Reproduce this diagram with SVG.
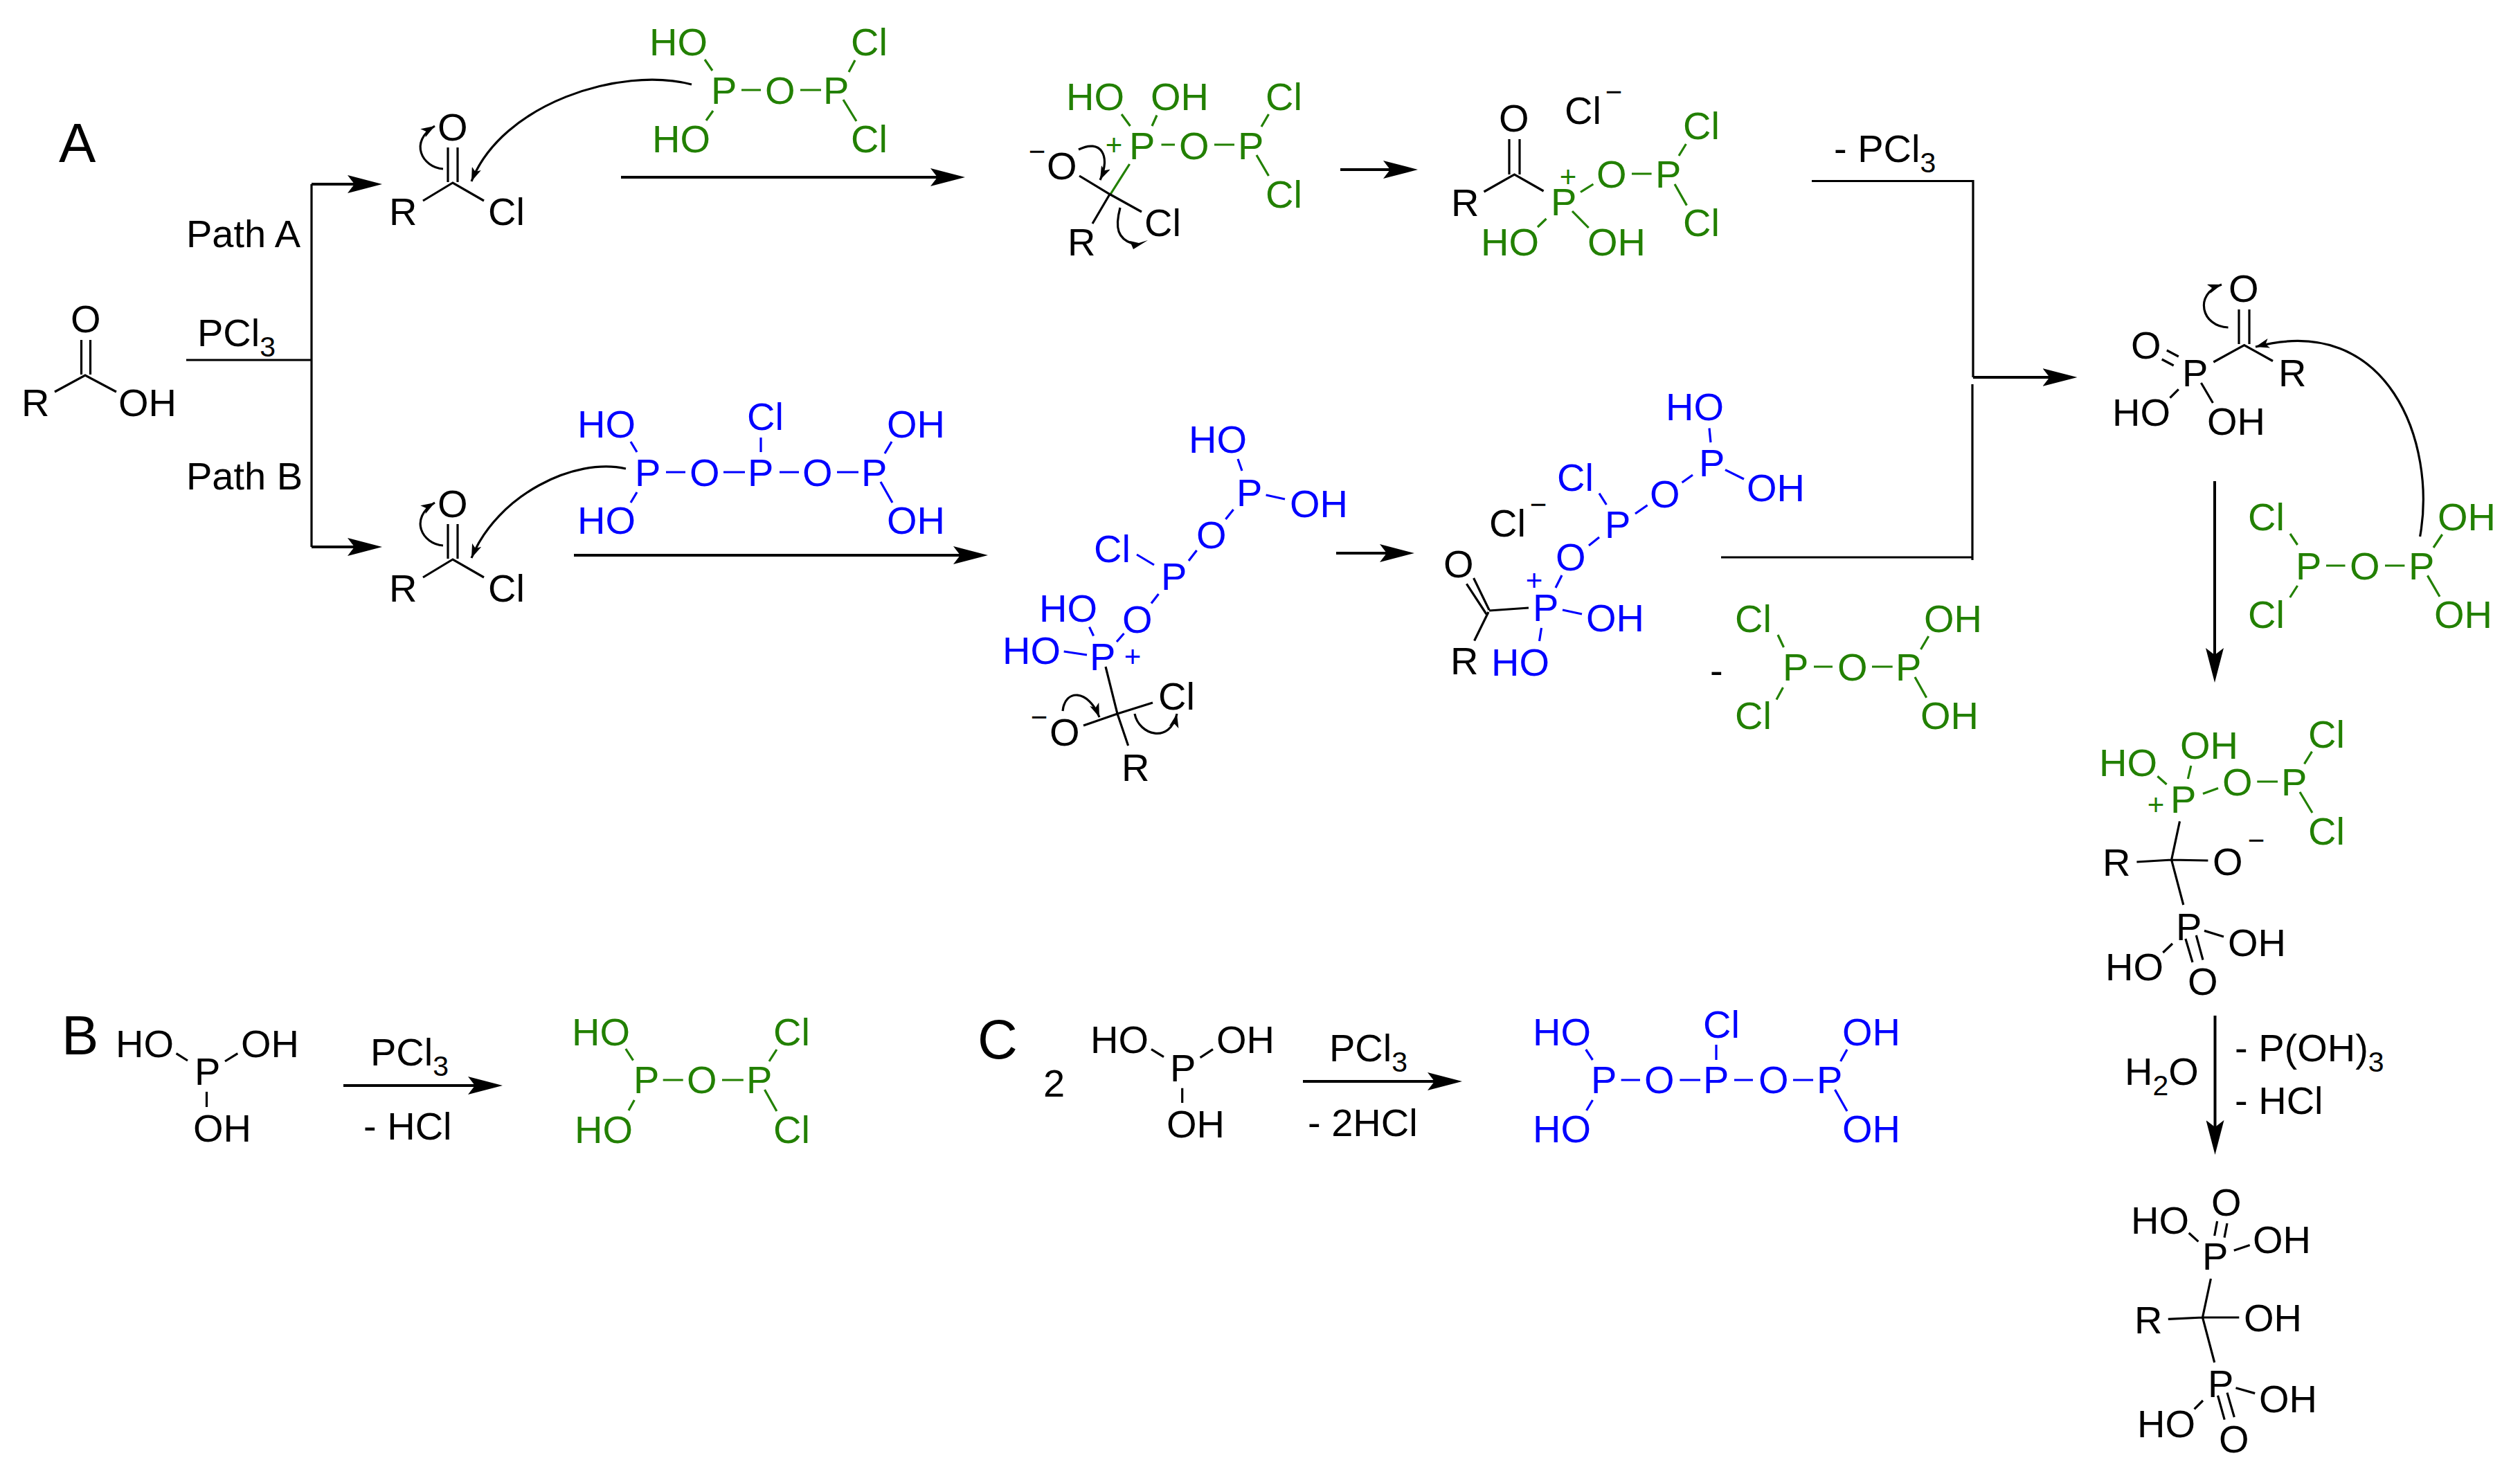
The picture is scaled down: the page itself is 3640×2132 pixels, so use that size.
<svg xmlns="http://www.w3.org/2000/svg" width="3640" height="2132" viewBox="0 0 3640 2132">
<style>
text{font-family:"Liberation Sans",Arial,sans-serif;font-size:56px;fill:#000}
.g text,text.g{fill:#228000}
.b text,text.b{fill:#0000ff}
text.k{fill:#000}
text.lab{font-size:80px}
text.c{font-size:42px;text-anchor:middle}
tspan.s{font-size:41px}
path{fill:none;stroke-width:3.2;stroke:#000}
.g>path{stroke:#228000}
.b>path{stroke:#0000ff}
path.k{stroke:#000}
.ar{stroke-width:4;marker-end:url(#big)}
.cu{marker-end:url(#small)}
path.hd{fill:#000;stroke:none}
</style>
<defs>
<marker id="big" markerUnits="userSpaceOnUse" markerWidth="50" markerHeight="26" viewBox="0 0 50 26" refX="40" refY="13" orient="auto"><path class="hd" d="M50,13L0,0L10,13L0,26Z"/></marker>
<marker id="small" markerUnits="userSpaceOnUse" markerWidth="20" markerHeight="14" viewBox="0 0 20 14" refX="20" refY="7" orient="auto"><path class="hd" d="M20,7L0,0L5,7L0,14Z"/></marker>
</defs>
<rect width="3640" height="2132" fill="#fff"/>

<g id="connectors">
<path d="M269,520H450M450,266V790"/>
<path class="ar" d="M450,266H542"/>
<path class="ar" d="M450,790H542"/>
<path class="ar" d="M897,256H1384"/>
<path class="ar" d="M829,802H1417"/>
<path class="ar" d="M1936,245H2038"/>
<path class="ar" d="M1930,799H2033"/>
<path d="M2617,261.500H2850V545M2486,805H2849M2849,555V809"/>
<path class="ar" d="M2850,545H2990.500"/>
<path class="ar" d="M3199,695V976"/>
<path class="ar" d="M3199.500,1467V1658"/>
<path class="ar" d="M496,1568H716"/>
<path class="ar" d="M1882,1562H2102"/>
<path class="cu" d="M640,244C610,242 590,205 628,182"/>
<path class="cu" d="M999,122C895,95 725,150 681,262"/>
<path class="cu" d="M640,788C610,786 590,749 628,726"/>
<path class="cu" d="M904,677C830,660 718,715 681,806"/>
<path class="cu" d="M1558,216C1590,200 1605,225 1589,260"/>
<path d="M1618,300C1610,330 1615,345 1636,352"/>
<path class="hd" d="M1637,360L1632,348L1645,351L1658,347Z"/>
<path class="cu" d="M1535,1027C1538,995 1572,995 1588,1036"/>
<path class="cu" d="M1639,1031C1645,1062 1690,1075 1700,1031"/>
<path class="cu" d="M3218.500,473C3180,472 3168,425 3209,411"/>
<path class="cu" d="M3495.600,775C3520,640 3450,450 3258,501"/>
</g>

<g id="labels">
<text class="lab" x="85" y="234">A</text>
<text class="lab" x="89" y="1523">B</text>
<text class="lab" x="1412" y="1529">C</text>
<text x="269" y="357">Path A</text>
<text x="269" y="707">Path B</text>
<text x="285" y="500">PCl<tspan class="s" dy="15">3</tspan></text>
<text x="2649" y="233.500">- PCl<tspan class="s" dy="15">3</tspan></text>
<text x="3069" y="1567">H<tspan class="s" dy="15">2</tspan><tspan dy="-15">O</tspan></text>
<text x="3228" y="1533">- P(OH)<tspan class="s" dy="15">3</tspan></text>
<text x="3228" y="1608.500">- HCl</text>
<text x="535" y="1539">PCl<tspan class="s" dy="15">3</tspan></text>
<text x="525" y="1646">- HCl</text>
<text x="1507" y="1584">2</text>
<text x="1920" y="1533">PCl<tspan class="s" dy="15">3</tspan></text>
<text x="1889" y="1641">- 2HCl</text>
<text x="2470" y="988">-</text>
</g>

<g id="acid">
<text x="102" y="480">O</text><text x="31" y="601">R</text><text x="171" y="601">OH</text>
<path d="M117.500,491V541M130.500,491V541M79,566L123,542L168,566"/>
</g>

<g id="acyl-chloride-a">
<text x="632" y="203">O</text><text x="562" y="325">R</text><text x="705" y="325">Cl</text>
<path d="M647,213V263M661,213V263M611,290L654,264L699,290"/>
</g>

<g id="acyl-chloride-b">
<text x="632" y="747">O</text><text x="562" y="869">R</text><text x="705" y="869">Cl</text>
<path d="M647,757V807M661,757V807M611,834L654,808L699,834"/>
</g>

<g id="reagent-green-a" class="g">
<text x="938" y="80">HO</text><text x="1229" y="80">Cl</text><text x="1027" y="149.500">P</text><text x="1105" y="149.500">O</text><text x="1189" y="149.500">P</text><text x="942" y="219.500">HO</text><text x="1229" y="219.500">Cl</text>
<path d="M1018,86L1029,102M1020,174L1030,160M1071,130H1099M1156,130H1186M1235,87L1226,104M1218,144L1237,175"/>
</g>

<g id="reagent-blue-b" class="b">
<text x="834" y="632">HO</text><text x="1079" y="621">Cl</text><text x="1281" y="632">OH</text><text x="917" y="702">P</text><text x="996" y="702">O</text><text x="1080" y="702">P</text><text x="1159" y="702">O</text><text x="1244" y="702">P</text><text x="834" y="771">HO</text><text x="1281" y="771">OH</text>
<path d="M911,638L920,653M911,726L920,711M962,682H990M1045,682H1076M1126,682H1154M1209,682H1240M1099,632V653M1288,638L1278,655M1272,696L1289,726"/>
</g>

<g id="intermediate-a" class="g">
<text x="1540" y="159">HO</text><text x="1662" y="159">OH</text><text x="1828" y="159">Cl</text><text class="c" x="1609" y="224">+</text><text x="1631" y="230">P</text><text x="1703" y="230">O</text><text x="1788" y="230">P</text><text x="1828" y="300">Cl</text>
<path d="M1620,165L1632.500,182M1671,166.500L1664,182M1677.500,209H1697M1754,209H1783M1832.500,165L1822,183M1815,224L1832.500,254M1631.600,237L1604,280.500"/>
<text class="c k" x="1498" y="233">−</text><text class="k" x="1512" y="259">O</text><text class="k" x="1542" y="369">R</text><text class="k" x="1653" y="340.600">Cl</text>
<path class="k" d="M1603,280.500L1578,323M1559,254L1603,280.500L1649,306"/>
</g>

<g id="product-a" class="g">
<text class="k" x="2165" y="190">O</text><text class="k" x="2260" y="179">Cl</text><text class="c k" x="2331" y="147">−</text><text class="k" x="2096" y="312">R</text>
<path class="k" d="M2180,201V252M2195,201V252M2143.500,277L2187.500,252L2229.600,276"/>
<text x="2240" y="311">P</text><text class="c" x="2265" y="270">+</text><text x="2306" y="271">O</text><text x="2391" y="271">P</text><text x="2431" y="201">Cl</text><text x="2431" y="341">Cl</text><text x="2139" y="369">HO</text><text x="2293" y="369">OH</text>
<path d="M2283,277.500L2301.400,266M2357,251H2385.600M2435.400,208L2425,225M2419,266L2436.400,296.600M2233.500,316L2221,328M2271,305L2294.700,329"/>
</g>

<g id="intermediate-b" class="b">
<text x="1717" y="654">HO</text><text x="1786" y="730.500">P</text><text x="1863" y="747">OH</text><text x="1728" y="792">O</text><text x="1580" y="812">Cl</text><text x="1677" y="852">P</text><text x="1621" y="914">O</text><text x="1501" y="898">HO</text><text x="1448" y="959">HO</text><text x="1574" y="968">P</text><text class="c" x="1636" y="963">+</text>
<path d="M1788,663L1794,680M1828.600,715L1856,721M1781.600,736L1770.400,750M1728.600,795L1717,810M1642,801L1667,816M1673.500,858L1663,871.600M1623.500,915L1613,927M1573.500,905.600L1579.600,918.500M1536.700,941L1570,946"/>
<text class="k" x="1673" y="1025">Cl</text><text class="c k" x="1501" y="1050">−</text><text class="k" x="1516" y="1077">O</text><text class="k" x="1620" y="1127.600">R</text>
<path class="k" d="M1597,963L1614,1031L1629.600,1077M1565,1048L1614,1031L1665,1015"/>
</g>

<g id="product-b" class="b">
<text x="2406" y="607">HO</text><text x="2454" y="688">P</text><text x="2523" y="724">OH</text><text x="2383" y="733">O</text><text x="2249" y="708.500">Cl</text><text x="2318" y="777">P</text><text x="2247" y="824">O</text><text class="c" x="2216" y="853">+</text><text x="2214" y="896.500">P</text><text x="2291" y="912">OH</text><text x="2154" y="976">HO</text>
<path d="M2469,618.500L2471,639M2492,678.600L2519,692M2445,686L2429.600,697M2379.600,729.700L2362,742M2310,712.700L2320.400,729M2310,776L2295,788M2256,831L2247,849M2257,881L2285,887M2226.500,907L2223.500,926"/>
<text class="k" x="2151" y="775">Cl</text><text class="c k" x="2222" y="743">−</text><text class="k" x="2085" y="834">O</text><text class="k" x="2095" y="974">R</text>
<path class="k" d="M2128.600,835L2151,881M2118.400,843.400L2147,887M2151,882L2208,878M2150,884L2129.600,925.500"/>
</g>

<g id="byproduct-green" class="g">
<text x="2506" y="913">Cl</text><text x="2779" y="913">OH</text><text x="2575" y="983">P</text><text x="2654" y="983">O</text><text x="2738" y="983">P</text><text x="2506" y="1053">Cl</text><text x="2774" y="1053">OH</text>
<path d="M2568,917L2576.500,935M2566,1010.600L2575.500,993M2620,963H2647M2704,963H2733.700M2785.700,919L2774.500,938M2766,978L2782.700,1007.700"/>
</g>

<g id="acyl-phosphonate">
<text x="3219" y="436">O</text><text x="3291" y="558">R</text><text x="3152" y="558">P</text><text x="3078" y="517.600">O</text><text x="3051" y="615">HO</text><text x="3188" y="628">OH</text>
<path d="M3234,447V497M3249,447V497M3197.300,523L3241.700,498.500L3283,521.500M3129.800,506L3146.800,515M3122.700,519L3139.700,528M3146.800,562.400L3134.500,574.600M3179.400,553L3196.400,582"/>
</g>

<g id="reagent-green-c" class="g">
<text x="3247" y="766">Cl</text><text x="3521" y="766">OH</text><text x="3316" y="837">P</text><text x="3394" y="837">O</text><text x="3479" y="837">P</text><text x="3247" y="907">Cl</text><text x="3516" y="907">OH</text>
<path d="M3308,771L3318.600,787M3318.600,846L3307.700,863M3360,817H3387.500M3445,817H3473.400M3527.700,772L3515,791M3506.400,831.400L3524,861.700"/>
</g>

<g id="intermediate-c" class="g">
<text x="3032" y="1121">HO</text><text x="3149" y="1096">OH</text><text x="3334" y="1080">Cl</text><text class="c" x="3114" y="1177">+</text><text x="3135" y="1174">P</text><text x="3210" y="1149">O</text><text x="3295" y="1149">P</text><text x="3334" y="1220">Cl</text>
<path d="M3116.400,1121.300L3129.600,1133M3164.800,1106L3160.400,1125M3182,1146.600L3204,1138.500M3260.300,1129H3290M3339.500,1085.700L3328.500,1103.300M3322,1144L3340,1174"/>
<text class="k" x="3037" y="1265">R</text><text class="k" x="3196" y="1264">O</text><text class="c k" x="3259" y="1228">−</text><text class="k" x="3143" y="1358">P</text><text class="k" x="3218" y="1381">OH</text><text class="k" x="3041" y="1416">HO</text><text class="k" x="3160" y="1437.400">O</text>
<path class="k" d="M3148.500,1186.400L3136.600,1242L3153.800,1307M3086.400,1245L3136.600,1242L3189.400,1243M3184,1344.400L3212,1353M3138,1363L3124.300,1376M3156.900,1356L3167,1390M3172.300,1351L3182,1386.500"/>
</g>

<g id="bisphosphonate">
<text x="3194" y="1756">O</text><text x="3078" y="1781.500">HO</text><text x="3254" y="1809.700">OH</text><text x="3181" y="1834">P</text><text x="3241" y="1923.400">OH</text><text x="3083" y="1925.800">R</text><text x="3189" y="2018">P</text><text x="3263" y="2040">OH</text><text x="3087" y="2075.700">HO</text><text x="3205" y="2097.800">O</text>
<path d="M3202.600,1764L3198.700,1785M3217,1767L3213,1787.600M3161.700,1781L3175.400,1793.400M3226.800,1806.300L3249.700,1798.500M3193.400,1847L3181.500,1903L3198.700,1968M3131.800,1905.400L3181.500,1903L3234.300,1903M3229.500,2004.800L3257.200,2012.600M3182,2023L3169.600,2035.400M3203.500,2015.700L3213.200,2050.600M3217,2011.600L3227.300,2047"/>
</g>

<g id="phosphorous-acid-b">
<text x="167" y="1527">HO</text><text x="348" y="1527">OH</text><text x="281" y="1567">P</text><text x="279" y="1649">OH</text>
<path d="M254.600,1521.700L271,1532M343.300,1521.700L325,1533M298.500,1577V1599"/>
</g>

<g id="product-green-b" class="g">
<text x="826" y="1510">HO</text><text x="1117" y="1510">Cl</text><text x="915" y="1579">P</text><text x="992" y="1579">O</text><text x="1078" y="1579">P</text><text x="830" y="1650.700">HO</text><text x="1117" y="1650.700">Cl</text>
<path d="M903.800,1515L914.600,1531.700M916.300,1589L908,1604M957.700,1560H986.700M1043,1560H1073.800M1121.900,1516L1111,1533M1104.500,1574L1121.900,1605"/>
</g>

<g id="phosphorous-acid-c">
<text x="1575" y="1521">HO</text><text x="1757" y="1521">OH</text><text x="1690" y="1561.700">P</text><text x="1685" y="1643">OH</text>
<path d="M1663,1515.700L1681,1526.700M1752,1515.700L1733.600,1527.700M1707.700,1571.700V1593"/>
</g>

<g id="product-blue-c" class="b">
<text x="2214" y="1510">HO</text><text x="2460" y="1499">Cl</text><text x="2661" y="1510">OH</text><text x="2298" y="1579">P</text><text x="2375" y="1579">O</text><text x="2460" y="1579">P</text><text x="2540" y="1579">O</text><text x="2624" y="1579">P</text><text x="2214" y="1650">HO</text><text x="2661" y="1650">OH</text>
<path d="M2290.700,1516L2300.500,1531M2300.500,1589L2291.600,1604M2341.600,1560H2369M2426.400,1560H2456M2505,1560H2532M2590,1560H2619M2479,1509V1531M2668,1516L2658.600,1533M2650.500,1574L2668,1605"/>
</g>
</svg>
